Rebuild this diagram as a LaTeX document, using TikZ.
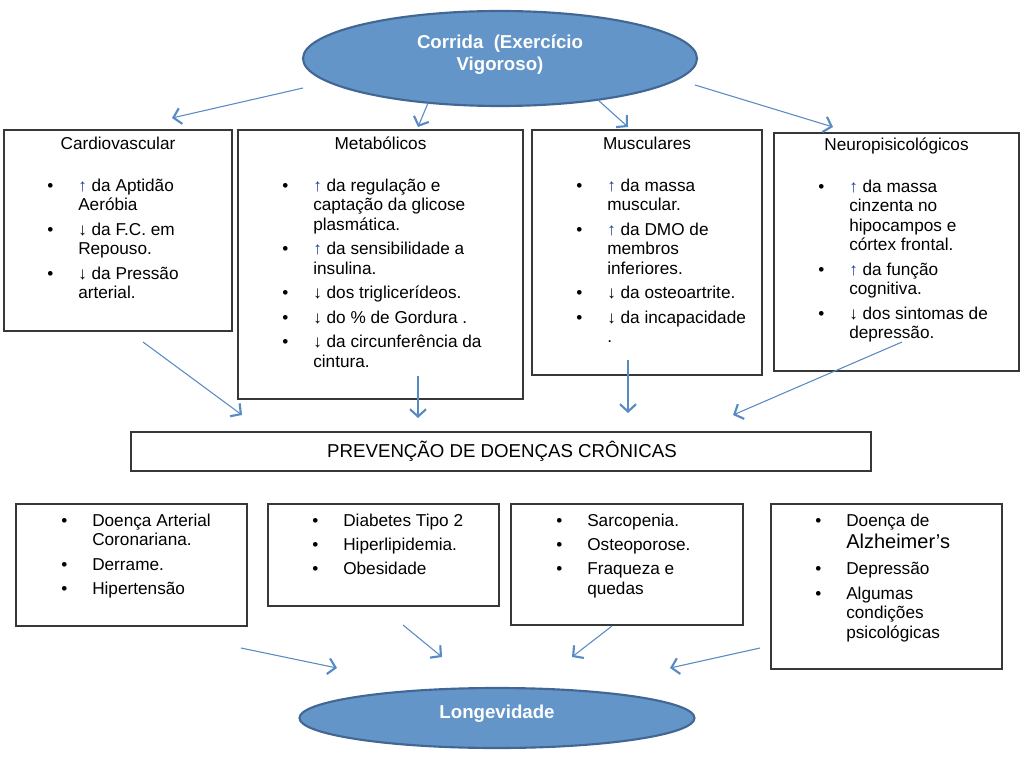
\documentclass[tikz,border=0pt]{standalone}
\usepackage{fontspec}
\setmainfont{Liberation Sans}
\usetikzlibrary{arrows.meta,shapes.geometric}
\definecolor{ellfill}{RGB}{99,149,200}
\definecolor{elldraw}{RGB}{66,103,148}
\definecolor{arrc}{RGB}{88,138,196}
\definecolor{boxdraw}{RGB}{55,55,55}
\definecolor{upc}{RGB}{25,60,150}
\newcommand\Up{{\color{upc}↑}}
\newcommand\Dn{↓}
\newcommand\blist[1]{\begin{tabular}[t]{@{}p{23.25pt}@{}l@{}}#1\end{tabular}}
\newcommand\gap{\\[3.6pt]}
\tikzset{
  box/.style={draw=boxdraw, line width=0.9pt, inner sep=0pt},
  ttl/.style={anchor=base, inner sep=0pt, font=\fontsize{12.9}{14.7}\selectfont},
  lst/.style={anchor=base west, inner sep=0pt, font=\fontsize{12.9}{14.7}\selectfont},
  oval/.style={ellipse, draw=elldraw, fill=ellfill, line width=1.6pt, inner sep=0pt},
  ovaltxt/.style={text=white, font=\bfseries\fontsize{14}{16.5}\selectfont, align=center, inner sep=0pt},
  conn/.style={draw=arrc, line width=0.8pt, -{Straight Barb[length=5.5pt,width=12pt,line width=1.6pt]}},
}
\newcommand\mybox[5]{\node[box, minimum width={(#4-#2)*0.75pt}, minimum height={(#5-#3)*0.75pt}] (#1) at ({(#2+#4)/2},{(#3+#5)/2}) {};}
\begin{document}
\begin{tikzpicture}[x=0.75pt,y=-0.75pt]
\useasboundingbox (0,0) rectangle (1023,770);
% top ellipse
\node[oval, minimum width={394*0.75pt}, minimum height={95*0.75pt}] (top) at (500,58.5) {};
\node[ovaltxt] (toptxt) at (500,55) {Corrida\ \ (Exercício\\Vigoroso)};
% row 1 boxes
\mybox{cv}{4}{130}{232}{331}
\mybox{mb}{238}{130}{523}{399}
\mybox{ms}{532}{130}{762}{375}
\mybox{np}{774}{133}{1019}{371}
\node[ttl] (cvt) at (118,149) {Cardiovascular};
\node[ttl] (mbt) at (380.5,149) {Metabólicos};
\node[ttl] (mst) at (647,149) {Musculares};
\node[ttl] (npt) at (896.5,151) {Neuropisicológicos};
\node[lst] (cvl) at (47,191) {\blist{%
\textbullet & \Up{} da Aptidão\\ & Aeróbia\gap
\textbullet & \Dn{} da F.C. em\\ & Repouso.\gap
\textbullet & \Dn{} da Pressão\\ & arterial.}};
\node[lst] (mbl) at (282,191) {\blist{%
\textbullet & \Up{} da regulação e\\ & captação da glicose\\ & plasmática.\gap
\textbullet & \Up{} da sensibilidade a\\ & insulina.\gap
\textbullet & \Dn{} dos triglicerídeos.\gap
\textbullet & \Dn{} do \% de Gordura .\gap
\textbullet & \Dn{} da circunferência da\\ & cintura.}};
\node[lst] (msl) at (576,191) {\blist{%
\textbullet & \Up{} da massa\\ & muscular.\gap
\textbullet & \Up{} da DMO de\\ & membros\\ & inferiores.\gap
\textbullet & \Dn{} da osteoartrite.\gap
\textbullet & \Dn{} da incapacidade\\ & .}};
\node[lst] (npl) at (818,192) {\blist{%
\textbullet & \Up{} da massa\\ & cinzenta no\\ & hipocampos e\\ & córtex frontal.\gap
\textbullet & \Up{} da função\\ & cognitiva.\gap
\textbullet & \Dn{} dos sintomas de\\ & depressão.}};
% prevention box
\mybox{pv}{131}{432}{871}{471}
\node[inner sep=0pt, font=\fontsize{14}{16}\selectfont] (pvt) at (502,451) {PREVENÇÃO DE DOENÇAS CRÔNICAS};
% row 2 boxes
\mybox{ba}{16}{504}{247}{626}
\mybox{bb}{268}{504}{499}{606}
\mybox{bc}{511}{504}{743}{625}
\mybox{bd}{771}{504}{1002}{669}
\node[lst] (bal) at (61,526) {\blist{%
\textbullet & Doença Arterial\\ & Coronariana.\gap
\textbullet & Derrame.\gap
\textbullet & Hipertensão}};
\node[lst] (bbl) at (312,526) {\blist{%
\textbullet & Diabetes Tipo 2\gap
\textbullet & Hiperlipidemia.\gap
\textbullet & Obesidade}};
\node[lst] (bcl) at (556,526) {\blist{%
\textbullet & Sarcopenia.\gap
\textbullet & Osteoporose.\gap
\textbullet & Fraqueza e\\ & quedas}};
\node[lst] (bdl) at (815,526) {\blist{%
\textbullet & Doença de\\[1.5pt] & {\fontsize{15}{17}\selectfont Alzheimer’s}\\[5pt]
\textbullet & Depressão\gap
\textbullet & Algumas\\ & condições\\ & psicológicas}};
% bottom ellipse
\node[oval, minimum width={395*0.75pt}, minimum height={60*0.75pt}] (lon) at (497,718) {};
\node[ovaltxt] (lontxt) at (497,714) {Longevidade};
% connector coordinates
\coordinate (s1) at (303,88);  \coordinate (e1) at (172,118);
\coordinate (s2) at (428,103); \coordinate (e2) at (418,127);
\coordinate (s3) at (598,100); \coordinate (e3) at (628,127);
\coordinate (s4) at (695,85);  \coordinate (e4) at (833,127);
\coordinate (m1) at (143,342); \coordinate (f1) at (242,415);
\coordinate (m2) at (418,376); \coordinate (f2) at (418,418);
\coordinate (m3) at (628,360); \coordinate (f3) at (628,413);
\coordinate (m4) at (902,342); \coordinate (f4) at (733,415);
\coordinate (b1) at (241,648); \coordinate (g1) at (337,668);
\coordinate (b2) at (403,625); \coordinate (g2) at (442,657);
\coordinate (b3) at (612,626); \coordinate (g3) at (572,657);
\coordinate (b4) at (760,648); \coordinate (g4) at (670,668);
\foreach \a/\b in {s1/e1,s2/e2,s3/e3,s4/e4,m1/f1,m2/f2,m3/f3,m4/f4,b1/g1,b2/g2,b3/g3,b4/g4}
  \draw[conn] (\a) -- (\b);
\end{tikzpicture}
\end{document}
